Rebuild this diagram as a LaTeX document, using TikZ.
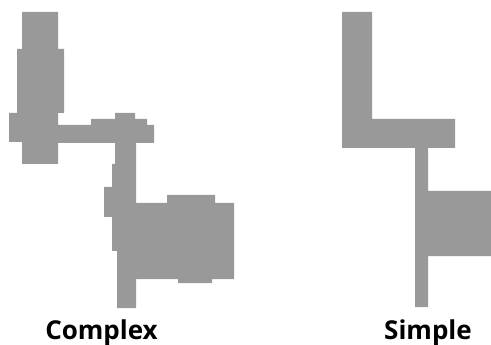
\documentclass[tikz,border=0pt]{standalone}
\usepackage{fontspec}
\setsansfont{Open Sans}
\usepackage{tikz}
\definecolor{partgray}{RGB}{153,153,153}

\begin{document}
\begin{tikzpicture}
[x=1pt,y=-1pt,
 part/.style={fill=partgray,draw=none},
 caption/.style={font=\sffamily\bfseries\fontsize{26}{28}\selectfont,inner sep=0pt,anchor=base}]
\useasboundingbox (0,0) rectangle (491,345);
%% complex layout
\fill[part] (22,12) -- (58,12) -- (58,49) -- (64,49) -- (64,113) -- (58,113)
	-- (58,125) -- (91,125) -- (91,119) -- (115,119) -- (115,113) -- (135,113)
	-- (135,119) -- (147,119) -- (147,125) -- (154,125) -- (154,143) -- (136,143)
	-- (136,203) -- (167,203) -- (167,195) -- (215,195) -- (215,203) -- (234,203)
	-- (234,279) -- (212,279) -- (212,283) -- (178,283) -- (178,279) -- (136,279)
	-- (136,308) -- (117,308) -- (117,251) -- (112,251) -- (112,217) -- (104,217)
	-- (104,187) -- (112,187) -- (112,164) -- (115,164) -- (115,143) -- (58,143)
	-- (58,164) -- (22,164) -- (22,142) -- (9,142) -- (9,113) -- (17,113)
	-- (17,49) -- (22,49) -- cycle ;
%% simple layout
\fill[part] (342,12) -- (372,12) -- (372,119) -- (455,119) -- (455,148)
	-- (428,148) -- (428,191) -- (491,191) -- (491,256) -- (428,256)
	-- (428,307) -- (415,307) -- (415,148) -- (342,148) -- cycle ;
\node[caption] (complex) at (101.5,339) {Complex};
\node[caption] (simple) at (428,339) {Simple};
\end{tikzpicture}
\end{document}
